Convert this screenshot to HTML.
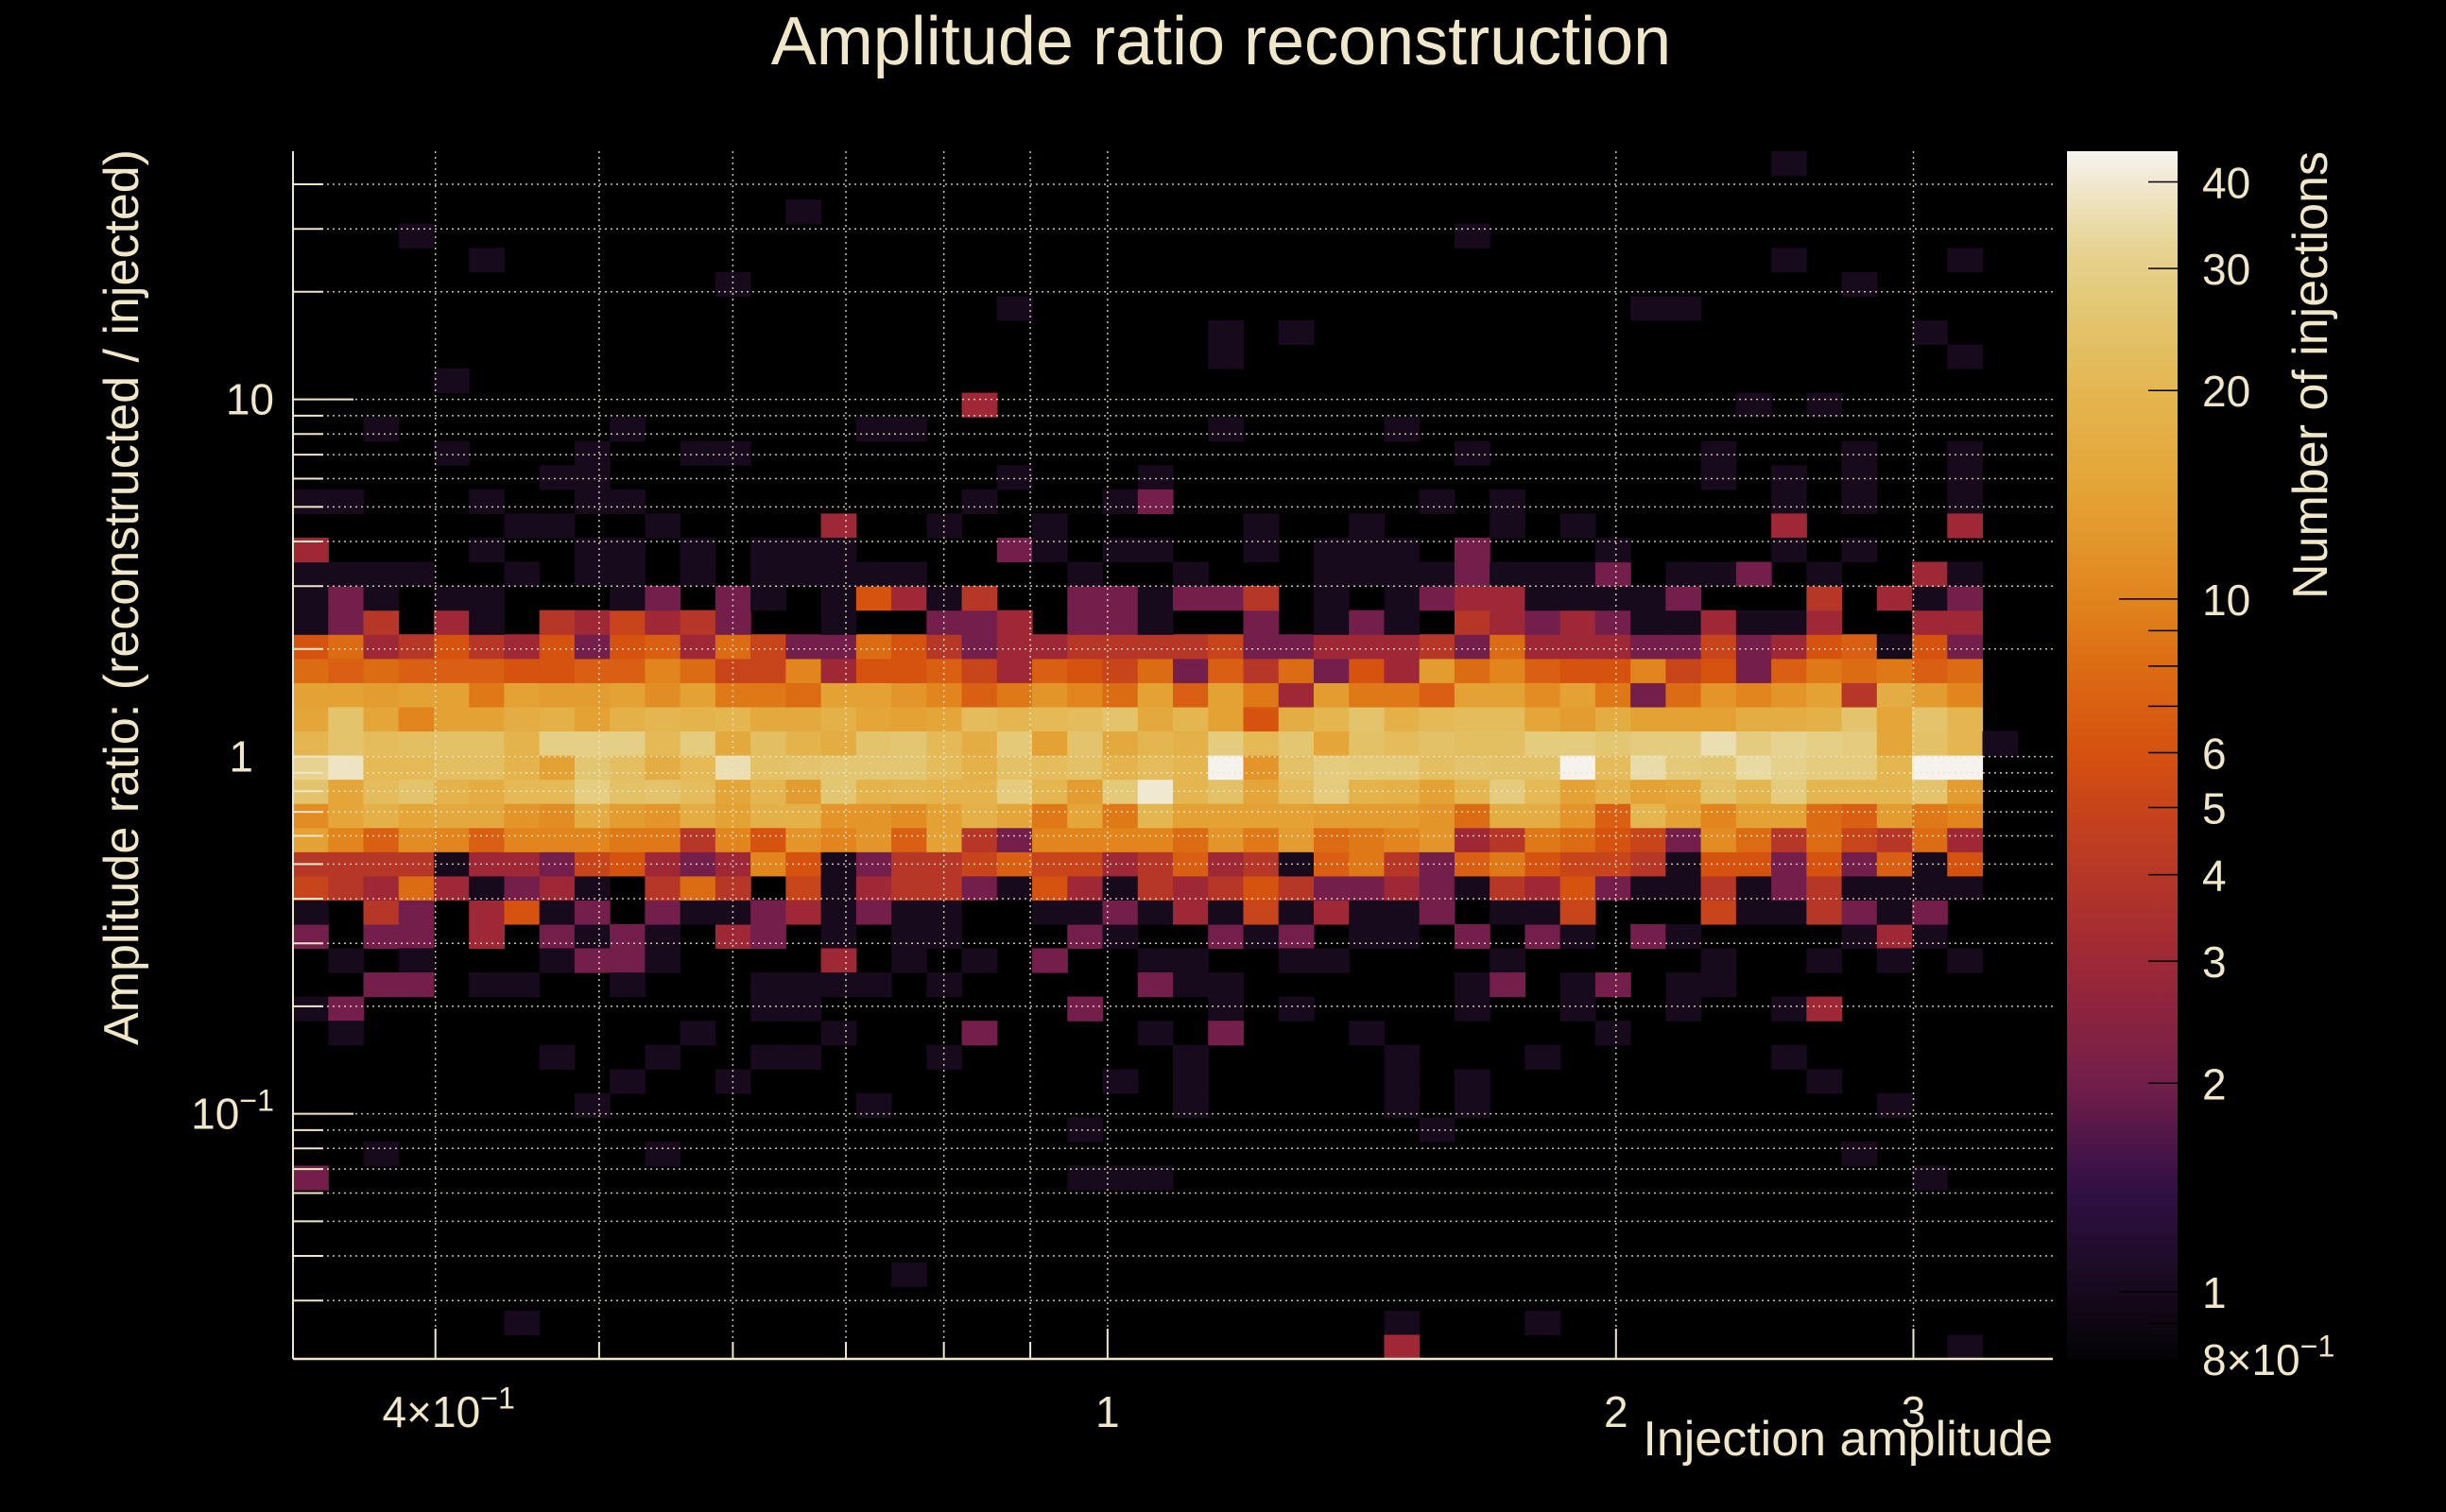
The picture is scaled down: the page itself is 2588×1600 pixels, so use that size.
<!DOCTYPE html>
<html><head><meta charset="utf-8"><style>
html,body{margin:0;padding:0;background:#000;}
svg{display:block;}
text{font-family:"Liberation Sans",sans-serif;fill:#f0e6c8;}
</style></head><body>
<svg id="chart" width="2588" height="1600" viewBox="0 0 2588 1600" xmlns="http://www.w3.org/2000/svg">
<rect x="0" y="0" width="2588" height="1600" fill="#000"/>
<text x="1292" y="68" font-size="72" text-anchor="middle">Amplitude ratio reconstruction</text>
<g id="cells"></g>
<g id="grid"></g>
<g id="axes"></g>
<g id="cbar"></g>
<text x="0" y="0" font-size="52" text-anchor="middle" transform="translate(146,632) rotate(-90)">Amplitude ratio: (reconstructed / injected)</text>
<text x="2172" y="1540" font-size="52" text-anchor="end">Injection amplitude</text>
<text x="0" y="0" font-size="52" text-anchor="end" transform="translate(2462,160) rotate(-90)">Number of injections</text>
</svg>
<script>
// ---- data ----
const nXBins = 50;
const nYBins = 50;
const xRange = [0.3294, 3.628];
const yRange = [0.0206, 49.5];
const zRange = [0.8, 44.3];
const bandRowStart = 17;
const bandCounts = [
 [2,0,2,2,0,3,0,2,1,2,1,0,3,2,0,1,0,1,1,0,0,0,2,1,0,0,2,1,2,0,1,1,0,2,0,2,1,0,2,1,0,0,0,0,1,3,1,0,0,0],
 [1,0,4,2,0,3,6,1,2,0,2,1,1,2,3,1,2,1,1,0,0,1,1,2,1,3,1,5,1,3,1,1,2,0,1,1,5,0,0,0,5,1,1,4,2,1,2,0,0,0],
 [5,4,3,8,3,1,2,3,1,0,4,8,4,0,5,1,3,4,4,2,1,6,3,1,4,3,4,6,4,2,2,3,2,1,4,3,6,2,1,1,4,1,2,4,1,1,1,1,0,0],
 [4,4,4,4,1,3,3,2,5,6,3,2,3,10,6,1,2,4,4,5,7,5,5,3,4,7,3,4,1,7,9,4,2,7,9,6,5,5,4,1,6,6,2,6,2,7,1,6,0,0],
 [14,10,7,11,10,7,10,10,10,9,9,4,10,6,12,10,12,7,14,4,2,10,10,10,10,8,12,9,13,8,9,10,12,3,4,9,8,6,5,2,11,8,4,8,5,4,8,3,0,0],
 [11,15,18,15,16,16,12,11,17,13,12,17,14,18,18,12,12,11,14,18,15,9,15,9,20,14,14,14,14,13,13,13,12,8,17,17,12,7,20,14,10,14,14,8,7,13,9,10,0,0],
 [25,15,22,25,19,17,21,21,29,24,25,22,15,20,13,26,19,20,19,19,28,20,13,27,40,20,24,15,22,28,19,18,14,20,28,21,14,18,14,15,24,20,28,20,20,20,25,13,0,0],
 [32,38,21,21,23,23,19,14,26,23,17,21,36,24,25,26,26,26,22,18,24,22,24,19,22,20,44,12,24,28,27,27,23,25,24,24,44,22,35,27,26,34,31,28,28,20,44,44,0,0],
 [20,25,22,23,24,24,19,30,30,30,21,28,16,23,19,17,25,26,21,17,27,14,25,16,20,18,28,21,26,15,24,22,24,23,23,28,28,26,28,28,36,28,32,30,28,15,24,20,1,0],
 [15,25,15,10,14,14,17,18,14,18,20,19,20,16,16,18,15,14,15,22,20,21,22,25,16,20,14,6,17,20,25,18,21,22,22,15,13,17,14,14,14,17,17,18,25,15,25,20,0,0],
 [14,14,13,14,14,9,14,13,13,14,11,14,9,9,8,14,14,12,10,7,9,12,10,8,14,7,14,9,3,13,9,9,7,14,14,11,14,9,2,8,12,10,12,14,4,17,13,10,0,0],
 [8,7,8,7,7,7,6,6,7,7,10,8,5,5,10,3,6,6,7,5,3,7,6,5,8,2,7,4,8,2,6,3,13,8,10,7,6,6,10,5,6,2,7,9,8,9,7,8,0,0],
 [6,8,3,4,6,4,3,6,2,6,7,3,8,5,2,2,8,6,4,2,3,3,4,4,4,4,5,2,2,3,3,3,4,2,8,3,3,3,2,2,5,2,3,6,7,1,6,2,0,0],
 [1,2,4,0,3,1,0,4,3,5,3,4,2,0,0,1,0,0,2,2,3,0,2,2,1,0,0,2,0,1,2,1,0,4,3,2,3,2,1,1,3,1,1,3,0,0,3,3,0,0],
 [1,2,1,0,1,1,0,0,0,1,2,0,2,1,0,1,6,3,1,4,0,0,2,2,1,2,2,4,0,1,0,1,2,3,3,1,1,1,1,2,0,0,0,4,0,3,1,2,0,0],
 [1,1,1,1,0,0,1,0,1,1,0,1,0,1,1,1,1,1,0,0,0,0,1,0,0,1,0,0,0,1,1,1,1,2,1,1,1,2,0,1,1,2,0,1,0,0,3,1,0,0]
];
const outlierCols = [42, 14, 3,33, 5,42,47, 12,44, 20,38,39, 26,28,46, 26,47, 4, 19,41,43, 2,9,16,17,26,31, 4,8,11,12,33,40,44,47, 7,8,20,24,40,42,44,47, 0,1,5,8,9,19,23,24,32,34,42,44,47, 6,7,10,15,18,21,27,30,34,36,42,47, 0,5,8,9,11,13,14,15,20,21,23,24,27,29,30,31,33,37,42,44, 1,3,7,8,9,10,15,17,19,21,24,25,28,29,34,40,43,45,47, 2,3,5,6,9,13,14,15,16,18,24,25,26,33,34,36,37,39,40, 0,1,13,14,22,26,28,33,36,39,42,43, 1,11,15,19,24,26,30,37, 7,10,13,14,18,25,31,35,42, 9,12,23,25,31,33,43, 8,16,25,31,33,45, 22,32, 2,10,44, 0,22,23,24,46, 17, 6,31,35, 31,47];
const outlierRows = [49, 47, 46,46, 45,45,45, 44,44, 43,43,43, 42,42,42, 41,41, 40, 39,39,39, 38,38,38,38,38,38, 37,37,37,37,37,37,37,37, 36,36,36,36,36,36,36,36, 35,35,35,35,35,35,35,35,35,35,35,35,35, 34,34,34,34,34,34,34,34,34,34,34,34, 33,33,33,33,33,33,33,33,33,33,33,33,33,33,33,33,33,33,33,33, 16,16,16,16,16,16,16,16,16,16,16,16,16,16,16,16,16,16,16, 15,15,15,15,15,15,15,15,15,15,15,15,15,15,15,15,15,15,15, 14,14,14,14,14,14,14,14,14,14,14,14, 13,13,13,13,13,13,13,13, 12,12,12,12,12,12,12,12,12, 11,11,11,11,11,11,11, 10,10,10,10,10,10, 9,9, 8,8,8, 7,7,7,7,7, 3, 1,1,1, 0,0];
const outlierValues = [1, 1, 1,1, 1,1,1, 1,1, 1,1,1, 1,1,1, 1,1, 1, 3,1,1, 1,1,1,1,1,1, 1,1,1,1,1,1,1,1, 1,1,1,1,1,1,1,1, 1,1,1,1,1,1,1,2,1,1,1,1,1, 1,1,1,3,1,1,1,1,1,1,3,3, 3,1,1,1,1,1,1,1,2,1,1,1,1,1,1,1,2,1,1,1, 1,1,1,2,2,1,3,1,1,2,1,1,1,1,1,1,1,1,1, 2,2,1,1,1,1,1,1,1,1,2,1,1,1,2,1,2,1,1, 1,2,1,1,2,1,1,1,1,1,1,3, 1,1,1,2,1,2,1,1, 1,1,1,1,1,1,1,1,1, 1,1,1,1,1,1,1, 1,1,1,1,1,1, 1,1, 1,1,1, 2,1,1,1,1, 1, 1,1,1, 3,1];
const xTickValues = [0.4, 1, 2, 3];
const xTickLabels = ["4\u00d710", "1", "2", "3"];
const xTickExps = ["\u22121", "", "", ""];
const yTickValues = [0.1, 1, 10];
const yTickLabels = ["10", "1", "10"];
const yTickExps = ["\u22121", "", ""];
const zTickValues = [0.8, 1, 2, 3, 4, 5, 6, 10, 20, 30, 40];
const zTickLabels = ["8\u00d710", "1", "2", "3", "4", "5", "6", "10", "20", "30", "40"];
const zTickExps = ["\u22121", "", "", "", "", "", "", "", "", "", ""];

// ---- geometry ----
const PX0 = 310, PX1 = 2172, PY0 = 160, PY1 = 1438;
const CBX0 = 2187, CBX1 = 2304;
const L = Math.log10;
function xPix(v){ return PX0 + (L(v)-L(xRange[0]))/(L(xRange[1])-L(xRange[0]))*(PX1-PX0); }
function yPix(v){ return PY1 - (L(v)-L(yRange[0]))/(L(yRange[1])-L(yRange[0]))*(PY1-PY0); }
function zPix(v){ return PY1 - (L(v)-L(zRange[0]))/(L(zRange[1])-L(zRange[0]))*(PY1-PY0); }
function xEdge(i){ return Math.pow(10, L(xRange[0]) + i*(L(xRange[1])-L(xRange[0]))/nXBins); }
function yEdge(i){ return Math.pow(10, L(yRange[0]) + i*(L(yRange[1])-L(yRange[0]))/nYBins); }

const cStops = [[0.8,[5,3,6]],[1,[22,10,28]],[1.4,[48,15,69]],[2,[115,30,75]],[3,[158,40,54]],[4,[182,55,40]],[5,[200,68,27]],[6,[213,82,15]],[8,[220,108,20]],[10,[225,133,28]],[14,[228,162,52]],[20,[228,182,80]],[25,[227,196,108]],[32,[230,211,145]],[40,[240,232,208]],[44.3,[246,244,240]]];
function color(v){
  v = Math.max(zRange[0], Math.min(zRange[1], v));
  for (let i=0;i<cStops.length-1;i++){
    const a=cStops[i], b=cStops[i+1];
    if (v<=b[0]){
      const t=(L(v)-L(a[0]))/(L(b[0])-L(a[0]));
      const c=a[1].map((x,k)=>Math.round(x+(b[1][k]-x)*t));
      return 'rgb('+c.join(',')+')';
    }
  }
  return 'rgb(246,244,240)';
}
const NS='http://www.w3.org/2000/svg';
function mk(tag, attrs, parent){ const e=document.createElementNS(NS,tag); for(const k in attrs) e.setAttribute(k,attrs[k]); parent.appendChild(e); return e; }

// ---- cells ----
const cellsG=document.getElementById('cells');
function drawCell(c, r, v){
  if (!v) return;
  const x0=xPix(xEdge(c)), x1=xPix(xEdge(c+1)), y0=yPix(yEdge(r+1)), y1=yPix(yEdge(r));
  const e=mk('rect',{x:x0.toFixed(2),y:y0.toFixed(2),width:(x1-x0+0.6).toFixed(2),height:(y1-y0+0.6).toFixed(2),fill:color(v)},cellsG);
  
  
}
bandCounts.forEach((row, ri)=>row.forEach((v, c)=>drawCell(c, bandRowStart+ri, v)));
outlierCols.forEach((c,i)=>drawCell(c, outlierRows[i], outlierValues[i]));

// ---- grid & axes ----
const gridG=document.getElementById('grid'), axG=document.getElementById('axes');
const cream='#f0e6c8';
const xGridVals=[0.4,0.5,0.6,0.7,0.8,0.9,1,2,3];
xGridVals.forEach(v=>{
  const x=xPix(v);
  const g=mk('line',{x1:x,x2:x,y1:PY0,y2:PY1,stroke:cream,'stroke-width':1.5,'stroke-dasharray':'2 4',opacity:0.85},gridG);
  
  
  const t=mk('line',{x1:x,x2:x,y1:PY1,y2:PY1-([1,2,3].includes(v)||v===0.4?32:18),stroke:cream,'stroke-width':2},axG);
  
  
});
const yGridVals=[];
[0.01,0.1,1,10].forEach(d=>{for(let k=1;k<10;k++){const v=d*k; if(v>yRange[0]&&v<yRange[1]) yGridVals.push(v);}});
yGridVals.forEach(v=>{
  const y=yPix(v);
  const g=mk('line',{x1:PX0,x2:PX1,y1:y,y2:y,stroke:cream,'stroke-width':1.5,'stroke-dasharray':'2 4',opacity:0.85},gridG);
  
  
  const major = Math.abs(L(v)-Math.round(L(v)))<1e-6;
  const t=mk('line',{x1:PX0,x2:PX0+(major?64:32),y1:y,y2:y,stroke:cream,'stroke-width':2},axG);
  
  
});
const ax1=mk('line',{x1:PX0,x2:PX0,y1:PY0,y2:PY1,stroke:cream,'stroke-width':2},axG);


const ax2=mk('line',{x1:PX0,x2:PX1,y1:PY1,y2:PY1,stroke:cream,'stroke-width':2.5},axG);



function label(parent, x, y, txt, exp, anchor, size, name){
  const t=mk('text',{x:x,y:y,'font-size':size,'text-anchor':anchor},parent);
  
  
  t.appendChild(document.createTextNode(txt));
  if (exp){ const s=mk('tspan',{dy:-size*0.42,'font-size':size*0.7},t); s.appendChild(document.createTextNode(exp)); }
  return t;
}
xTickValues.forEach((v,i)=>{
  const x=xPix(v) + (xTickExps[i]?14:0);
  label(axG, x, 1510, xTickLabels[i], xTickExps[i], 'middle', 46, 'x-tick-label');
});
yTickValues.forEach((v,i)=>{
  const xe = yTickLabels[i]==="1" ? 268 : 290;
  label(axG, xe, yPix(v)+16, yTickLabels[i], yTickExps[i], 'end', 46, 'y-tick-label');
});

// ---- colour bar ----
const cb=document.getElementById('cbar');
const defs=mk('defs',{},cb);
const grad=mk('linearGradient',{id:'cbgrad',x1:0,y1:1,x2:0,y2:0},defs);
for(let i=0;i<=60;i++){
  const v=Math.pow(10, L(zRange[0]) + i/60*(L(zRange[1])-L(zRange[0])));
  mk('stop',{offset:(i/60).toFixed(4),'stop-color':color(v)},grad);
}
const cbr=mk('rect',{x:CBX0,y:PY0,width:CBX1-CBX0,height:PY1-PY0,fill:'url(#cbgrad)'},cb);


const zMinor=[0.9,1,2,3,4,5,6,7,8,9,10,20,30,40];
zMinor.forEach(v=>{
  const y=zPix(v);
  const major=(v===1||v===10);
  const t=mk('line',{x1:CBX1-(major?62:31),x2:CBX1,y1:y,y2:y,stroke:'#000','stroke-width':1.5},cb);
  
  
});
zTickValues.forEach((v,i)=>{
  label(cb, 2330, zPix(v)+17, zTickLabels[i], zTickExps[i], 'start', 46, 'colorbar-tick-label');
});
</script>
</body></html>
